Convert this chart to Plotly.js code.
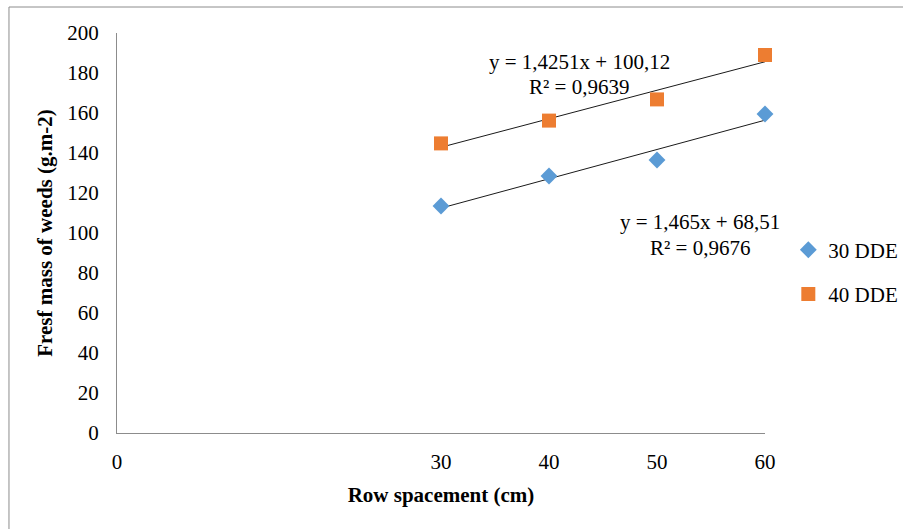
<!DOCTYPE html>
<html>
<head>
<meta charset="utf-8">
<script src="https://cdn.plot.ly/plotly-3.0.1.min.js"></script>
<style>html,body{margin:0;padding:0;background:#fff;}#chart{width:903px;height:529px;}</style>
</head>
<body>
<div id="chart"></div>
<script>
// Data
const rowSpacing = [30, 40, 50, 60];
const dde30 = [113.5, 128.5, 136.5, 159.5];
const dde40 = [144.8, 156.2, 166.8, 189];
const fit30 = {slope: 1.465, intercept: 68.51, label: "y = 1,465x + 68,51", r2: "R² = 0,9676"};
const fit40 = {slope: 1.4251, intercept: 100.12, label: "y = 1,4251x + 100,12", r2: "R² = 0,9639"};
const xTicks = [0, 30, 40, 50, 60];
const yTicks = [0, 20, 40, 60, 80, 100, 120, 140, 160, 180, 200];

const FONT = "Liberation Serif";
const trendX = [rowSpacing[0], rowSpacing[rowSpacing.length - 1]];
const lineOf = f => trendX.map(x => f.slope * x + f.intercept);

const traces = [
  {x: trendX, y: lineOf(fit40), mode: 'lines', line: {color: '#1a1a1a', width: 1}, showlegend: false, hoverinfo: 'skip', cliponaxis: false},
  {x: trendX, y: lineOf(fit30), mode: 'lines', line: {color: '#1a1a1a', width: 1}, showlegend: false, hoverinfo: 'skip', cliponaxis: false},
  {x: rowSpacing, y: dde30, mode: 'markers', name: '30 DDE', legendgroup: 'a', cliponaxis: false,
   marker: {symbol: 'diamond', size: 13, color: '#5B9BD5'}},
  {x: rowSpacing, y: dde40, mode: 'markers', name: '40 DDE', legendgroup: 'b', cliponaxis: false,
   marker: {symbol: 'square', size: 14, color: '#ED7D31'}}
];

const layout = {
  width: 903, height: 529,
  margin: {l: 117, r: 138, t: 33, b: 96},
  paper_bgcolor: '#fff', plot_bgcolor: '#fff',
  font: {family: FONT, size: 21, color: '#000'},
  showlegend: true,
  legend: {xref: 'container', yref: 'container', x: 0.873, y: 0.566, xanchor: 'left', yanchor: 'top',
           traceorder: 'grouped', tracegroupgap: 14,
           font: {family: FONT, size: 21, color: '#000'}, itemwidth: 30, bgcolor: 'rgba(0,0,0,0)'},
  xaxis: {
    range: [0, 60], tickmode: 'array', tickvals: xTicks, ticktext: xTicks.map(String),
    showgrid: false, zeroline: false, showline: true, linecolor: '#8c8c8c', linewidth: 1,
    ticks: '', ticklabelstandoff: 10,
    tickfont: {family: FONT, size: 21, color: '#000'},
    title: {text: '<b>Row spacement (cm)</b>', font: {family: FONT, size: 21, color: '#000'}, standoff: 14}
  },
  yaxis: {
    range: [0, 200], tickmode: 'array', tickvals: yTicks, ticktext: yTicks.map(String),
    showgrid: false, zeroline: false, showline: true, linecolor: '#8c8c8c', linewidth: 1,
    ticks: '', ticklabelstandoff: 13,
    tickfont: {family: FONT, size: 21, color: '#000'},
    title: {text: '<b>Fresf mass of weeds (g.m-2)</b>', font: {family: FONT, size: 21, color: '#000'}, standoff: 8}
  },
  shapes: [
    {type: 'rect', xref: 'paper', yref: 'paper', x0: -0.1667, x1: 2, y0: -1, y1: 1.065,
     line: {color: '#8c8c8c', width: 1}, fillcolor: 'rgba(0,0,0,0)', layer: 'below'}
  ],
  annotations: [
    {x: 42.8, y: 185.5, text: fit40.label, showarrow: false, font: {family: FONT, size: 21, color: '#000'}},
    {x: 42.8, y: 173, text: fit40.r2, showarrow: false, font: {family: FONT, size: 21, color: '#000'}},
    {x: 54, y: 105.5, text: fit30.label, showarrow: false, font: {family: FONT, size: 21, color: '#000'}},
    {x: 54, y: 92.5, text: fit30.r2, showarrow: false, font: {family: FONT, size: 21, color: '#000'}}
  ]
};

Plotly.newPlot('chart', traces, layout, {displayModeBar: false, staticPlot: true});
</script>
</body>
</html>
